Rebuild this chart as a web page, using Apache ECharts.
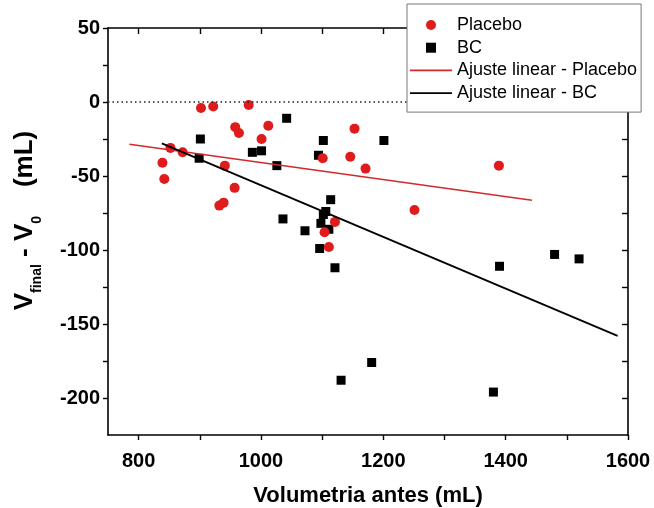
<!DOCTYPE html>
<html>
<head>
<meta charset="utf-8">
<script src="https://cdn.jsdelivr.net/npm/echarts@6/dist/echarts.min.js"></script>
<style>
  html, body { margin: 0; padding: 0; background: #fff; }
  #chart { width: 654px; height: 508px; }
</style>
</head>
<body>
<div id="chart"></div>
<script>
// Placebo group
const xPlacebo = [902, 922, 980, 958, 964, 1012, 1001, 1153, 852, 872, 839, 842, 941, 1101, 1146, 1171, 957, 932, 939, 1121, 1104, 1111, 1389, 1251];
const yPlacebo = [-4, -3, -2, -17, -21, -16, -25, -18, -31, -34, -41, -52, -43, -38, -37, -45, -58, -70, -68, -81, -88, -98, -43, -73];
// BC group
const xBC = [1042, 901, 1102, 1201, 986, 1001, 1094, 899, 1026, 1114, 1106, 1102, 1036, 1098, 1111, 1072, 1096, 1121, 1181, 1131, 1390, 1480, 1520, 1380];
const yBC = [-11, -25, -26, -26, -34, -33, -36, -38, -43, -66, -74, -76, -79, -82, -86, -87, -99, -112, -176, -188, -111, -103, -106, -196];
// linear fits (end points)
const xFitPlacebo = [785, 1443];
const yFitPlacebo = [-28.5, -66.4];
const xFitBC = [838, 1583];
const yFitBC = [-28, -158];
// zero reference
const xZero = [750, 1600];
const yZero = [0, 0];
// ticks
const xLabels = [800, 1000, 1200, 1400, 1600];
const xTicks = [800, 900, 1000, 1100, 1200, 1300, 1400, 1500, 1600];
const yLabels = [-200, -150, -100, -50, 0, 50];
const yTicks = [-200, -175, -150, -125, -100, -75, -50, -25, 0, 25, 50];

const zip = (xs, ys) => xs.map((x, i) => [x, ys[i]]);
const FONT = "'Liberation Sans', Arial, sans-serif";
const RED = "#e01b1b";
const RED_LINE = "#d22a2a";

const chart = echarts.init(document.getElementById("chart"));

const axisLine = { show: true, onZero: false, lineStyle: { color: "#000", width: 1.6 } };
const tickStyle = { color: "#000", width: 1.4 };
const labelStyle = { fontFamily: FONT, fontSize: 20, fontWeight: "bold", color: "#000", formatter: (v) => String(v) };

chart.setOption({
  animation: false,
  grid: { left: 108, right: 26, top: 28, bottom: 73, outerBoundsMode: "none", containLabel: false },
  legend: {
    orient: "vertical",
    left: 407,
    top: 4,
    padding: [12, 4, 10, 3],
    itemWidth: 42,
    itemHeight: 10,
    itemGap: 4.7,
    backgroundColor: "#fff",
    borderColor: "#777",
    borderWidth: 1,
    textStyle: { fontFamily: FONT, fontSize: 18, color: "#000" },
    data: [
      { name: "Placebo", icon: "circle" },
      { name: "BC", icon: "path://M0 0H8V8H0Z" },
      { name: "Ajuste linear - Placebo", icon: "path://M0 0H42V1.6H0Z" },
      { name: "Ajuste linear - BC", icon: "path://M0 0H42V1.8H0Z" },
    ],
  },
  xAxis: [
    {
      type: "value",
      position: "bottom",
      min: 750,
      max: 1600,
      name: "Volumetria antes (mL)",
      nameLocation: "middle",
      nameGap: 50,
      nameTextStyle: { fontFamily: FONT, fontSize: 22, fontWeight: "bold", color: "#000" },
      axisLine: axisLine,
      axisTick: { show: true, inside: false, length: 5, customValues: xTicks, lineStyle: tickStyle },
      axisLabel: Object.assign({ customValues: xLabels, margin: 16 }, labelStyle),
      splitLine: { show: false },
    },
    {
      type: "value",
      position: "top",
      min: 750,
      max: 1600,
      axisLine: axisLine,
      axisTick: { show: true, inside: true, length: 6, customValues: xTicks, lineStyle: tickStyle },
      axisLabel: { show: false },
      splitLine: { show: false },
    },
  ],
  yAxis: [
    {
      type: "value",
      position: "left",
      min: -225,
      max: 50,
      name: "{v|V}{s|final}{v| - V}{s|0}{v|    (mL)}",
      nameLocation: "middle",
      nameGap: 64,
      nameRotate: 90,
      nameTextStyle: {
        padding: [0, 0, 0, 22],
        rich: {
          v: { fontFamily: FONT, fontSize: 26, fontWeight: "bold", color: "#000", lineHeight: 28, padding: [0, 0, 6, 0], verticalAlign: "bottom" },
          s: { fontFamily: FONT, fontSize: 14, fontWeight: "bold", color: "#000", lineHeight: 14, verticalAlign: "bottom" },
        },
      },
      axisLine: axisLine,
      axisTick: { show: true, inside: false, length: 5, customValues: yTicks, lineStyle: tickStyle },
      axisLabel: Object.assign({ customValues: yLabels, margin: 8 }, labelStyle),
      splitLine: { show: false },
    },
    {
      type: "value",
      position: "right",
      min: -225,
      max: 50,
      axisLine: axisLine,
      axisTick: { show: true, inside: true, length: 6, customValues: yTicks, lineStyle: tickStyle },
      axisLabel: { show: false },
      splitLine: { show: false },
    },
  ],
  series: [
    {
      name: "zero",
      type: "line",
      data: zip(xZero, yZero),
      symbol: "none",
      silent: true,
      lineStyle: { color: "#222", width: 1.5, type: [1.5, 3] },
    },
    {
      name: "Ajuste linear - Placebo",
      type: "line",
      data: zip(xFitPlacebo, yFitPlacebo),
      symbol: "none",
      color: RED_LINE,
      lineStyle: { color: RED_LINE, width: 1.6 },
    },
    {
      name: "Ajuste linear - BC",
      type: "line",
      data: zip(xFitBC, yFitBC),
      symbol: "none",
      color: "#000",
      lineStyle: { color: "#000", width: 1.8 },
    },
    {
      name: "BC",
      type: "scatter",
      data: zip(xBC, yBC),
      symbol: "rect",
      symbolSize: 9,
      itemStyle: { color: "#000", opacity: 1 },
    },
    {
      name: "Placebo",
      type: "scatter",
      data: zip(xPlacebo, yPlacebo),
      symbol: "circle",
      symbolSize: 10,
      itemStyle: { color: RED, opacity: 1 },
    },
  ],
});
</script>
</body>
</html>
